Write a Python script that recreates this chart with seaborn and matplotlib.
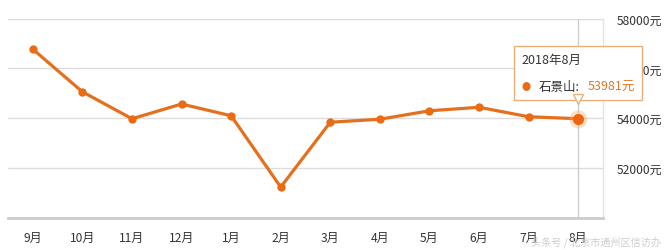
import matplotlib
matplotlib.use("Agg")
import matplotlib.pyplot as plt
import matplotlib.transforms as mtransforms
import seaborn as sns
import pandas as pd
from matplotlib.offsetbox import TextArea, HPacker, VPacker, AnnotationBbox

months = ["9月", "10月", "11月", "12月", "1月", "2月", "3月", "4月", "5月", "6月", "7月", "8月"]
prices = [56770, 55060, 53980, 54570, 54100, 51240, 53840, 53960, 54300, 54440, 54060, 53981]
y_ticks = [52000, 54000, 56000, 58000]
y_labels = ["52000元", "54000元", "56000元", "58000元"]
tip_title = "2018年8月"
tip_name = "石景山:"
tip_value = "53981元"
watermark = "头条号 / 北京市通州区信访办"

sns.set_style("white")
plt.rcParams["font.family"] = ["Noto Sans CJK SC", "DejaVu Sans"]

df = pd.DataFrame({"month": months, "price": prices})

fig = plt.figure(figsize=(6.68, 2.51), dpi=100)
ax = fig.add_axes([8 / 668, 1 - 219 / 251, (603 - 8) / 668, (219 - 19.5) / 251])

line_color = "#E4701E"
sns.lineplot(data=df, x="month", y="price", sort=False, ax=ax, color=line_color,
             linewidth=2.3, marker="o", markersize=6, markeredgewidth=0,
             markerfacecolor="#EC6A12", zorder=3)

ax.set_xlim(-0.5, len(months) - 0.5)
ax.set_ylim(50000, 58000)
ax.yaxis.tick_right()
ax.set_yticks(y_ticks)
ax.set_yticklabels(y_labels)
ax.set_xticks(range(len(months)))
ax.set_xticklabels(months)
ax.set_xlabel("")
ax.set_ylabel("")
ax.grid(axis="y", color="#DCDCDC", linewidth=1)
ax.set_axisbelow(True)
ax.tick_params(axis="y", length=0, pad=10, labelsize=8.7, labelcolor="#333333")
ax.tick_params(axis="x", length=4, width=0.8, color="#CCCCCC", pad=5,
               labelsize=8.7, labelcolor="#333333")
for s in ["top", "left"]:
    ax.spines[s].set_visible(False)
ax.spines["bottom"].set_color("#CCCCCC")
ax.spines["bottom"].set_linewidth(2)
ax.spines["right"].set_color("#E2E2E2")
ax.spines["right"].set_linewidth(1)

# crosshair at last point
last = len(months) - 1
ax.axvline(last, color="#CFCFCF", linewidth=1, zorder=1)
ax.plot([last], [prices[-1]], marker="o", markersize=13, color="#F5A560", alpha=0.35,
        markeredgewidth=0, zorder=4)
ax.plot([last], [prices[-1]], marker="o", markersize=8, color="#EE6410",
        markeredgewidth=0, zorder=5)

# tooltip
t1 = TextArea(tip_title, textprops=dict(fontsize=9, color="#333333"))
dot = TextArea("●", textprops=dict(fontsize=6.5, color="#EC6A12"))
t2 = TextArea(tip_name, textprops=dict(fontsize=9, color="#333333"))
t3 = TextArea(tip_value, textprops=dict(fontsize=9, color="#E07828"))
row = HPacker(children=[dot, t2, t3], align="center", pad=0, sep=6)
box = VPacker(children=[t1, row], align="left", pad=0, sep=10)
ab = AnnotationBbox(box, (last, prices[-1]), xybox=(0, 33), xycoords="data",
                    boxcoords="offset points", box_alignment=(0.5, 0.5),
                    pad=0.75,
                    bboxprops=dict(boxstyle="square,pad=0.5", facecolor="white",
                                   edgecolor="#EBB07A", linewidth=1),
                    zorder=6)
ax.add_artist(ab)
ptr = mtransforms.offset_copy(ax.transData, fig=fig, x=0, y=14.5, units="points")
ax.plot([last], [prices[-1]], marker="v", markersize=7, markerfacecolor="white",
        markeredgecolor="#EBB07A", markeredgewidth=1, transform=ptr, zorder=7)

fig.text(0.99, 0.01, watermark, ha="right", va="bottom", fontsize=7.3,
         color="#C8C8C8", alpha=0.9)

fig.savefig("out.png", dpi=100)
